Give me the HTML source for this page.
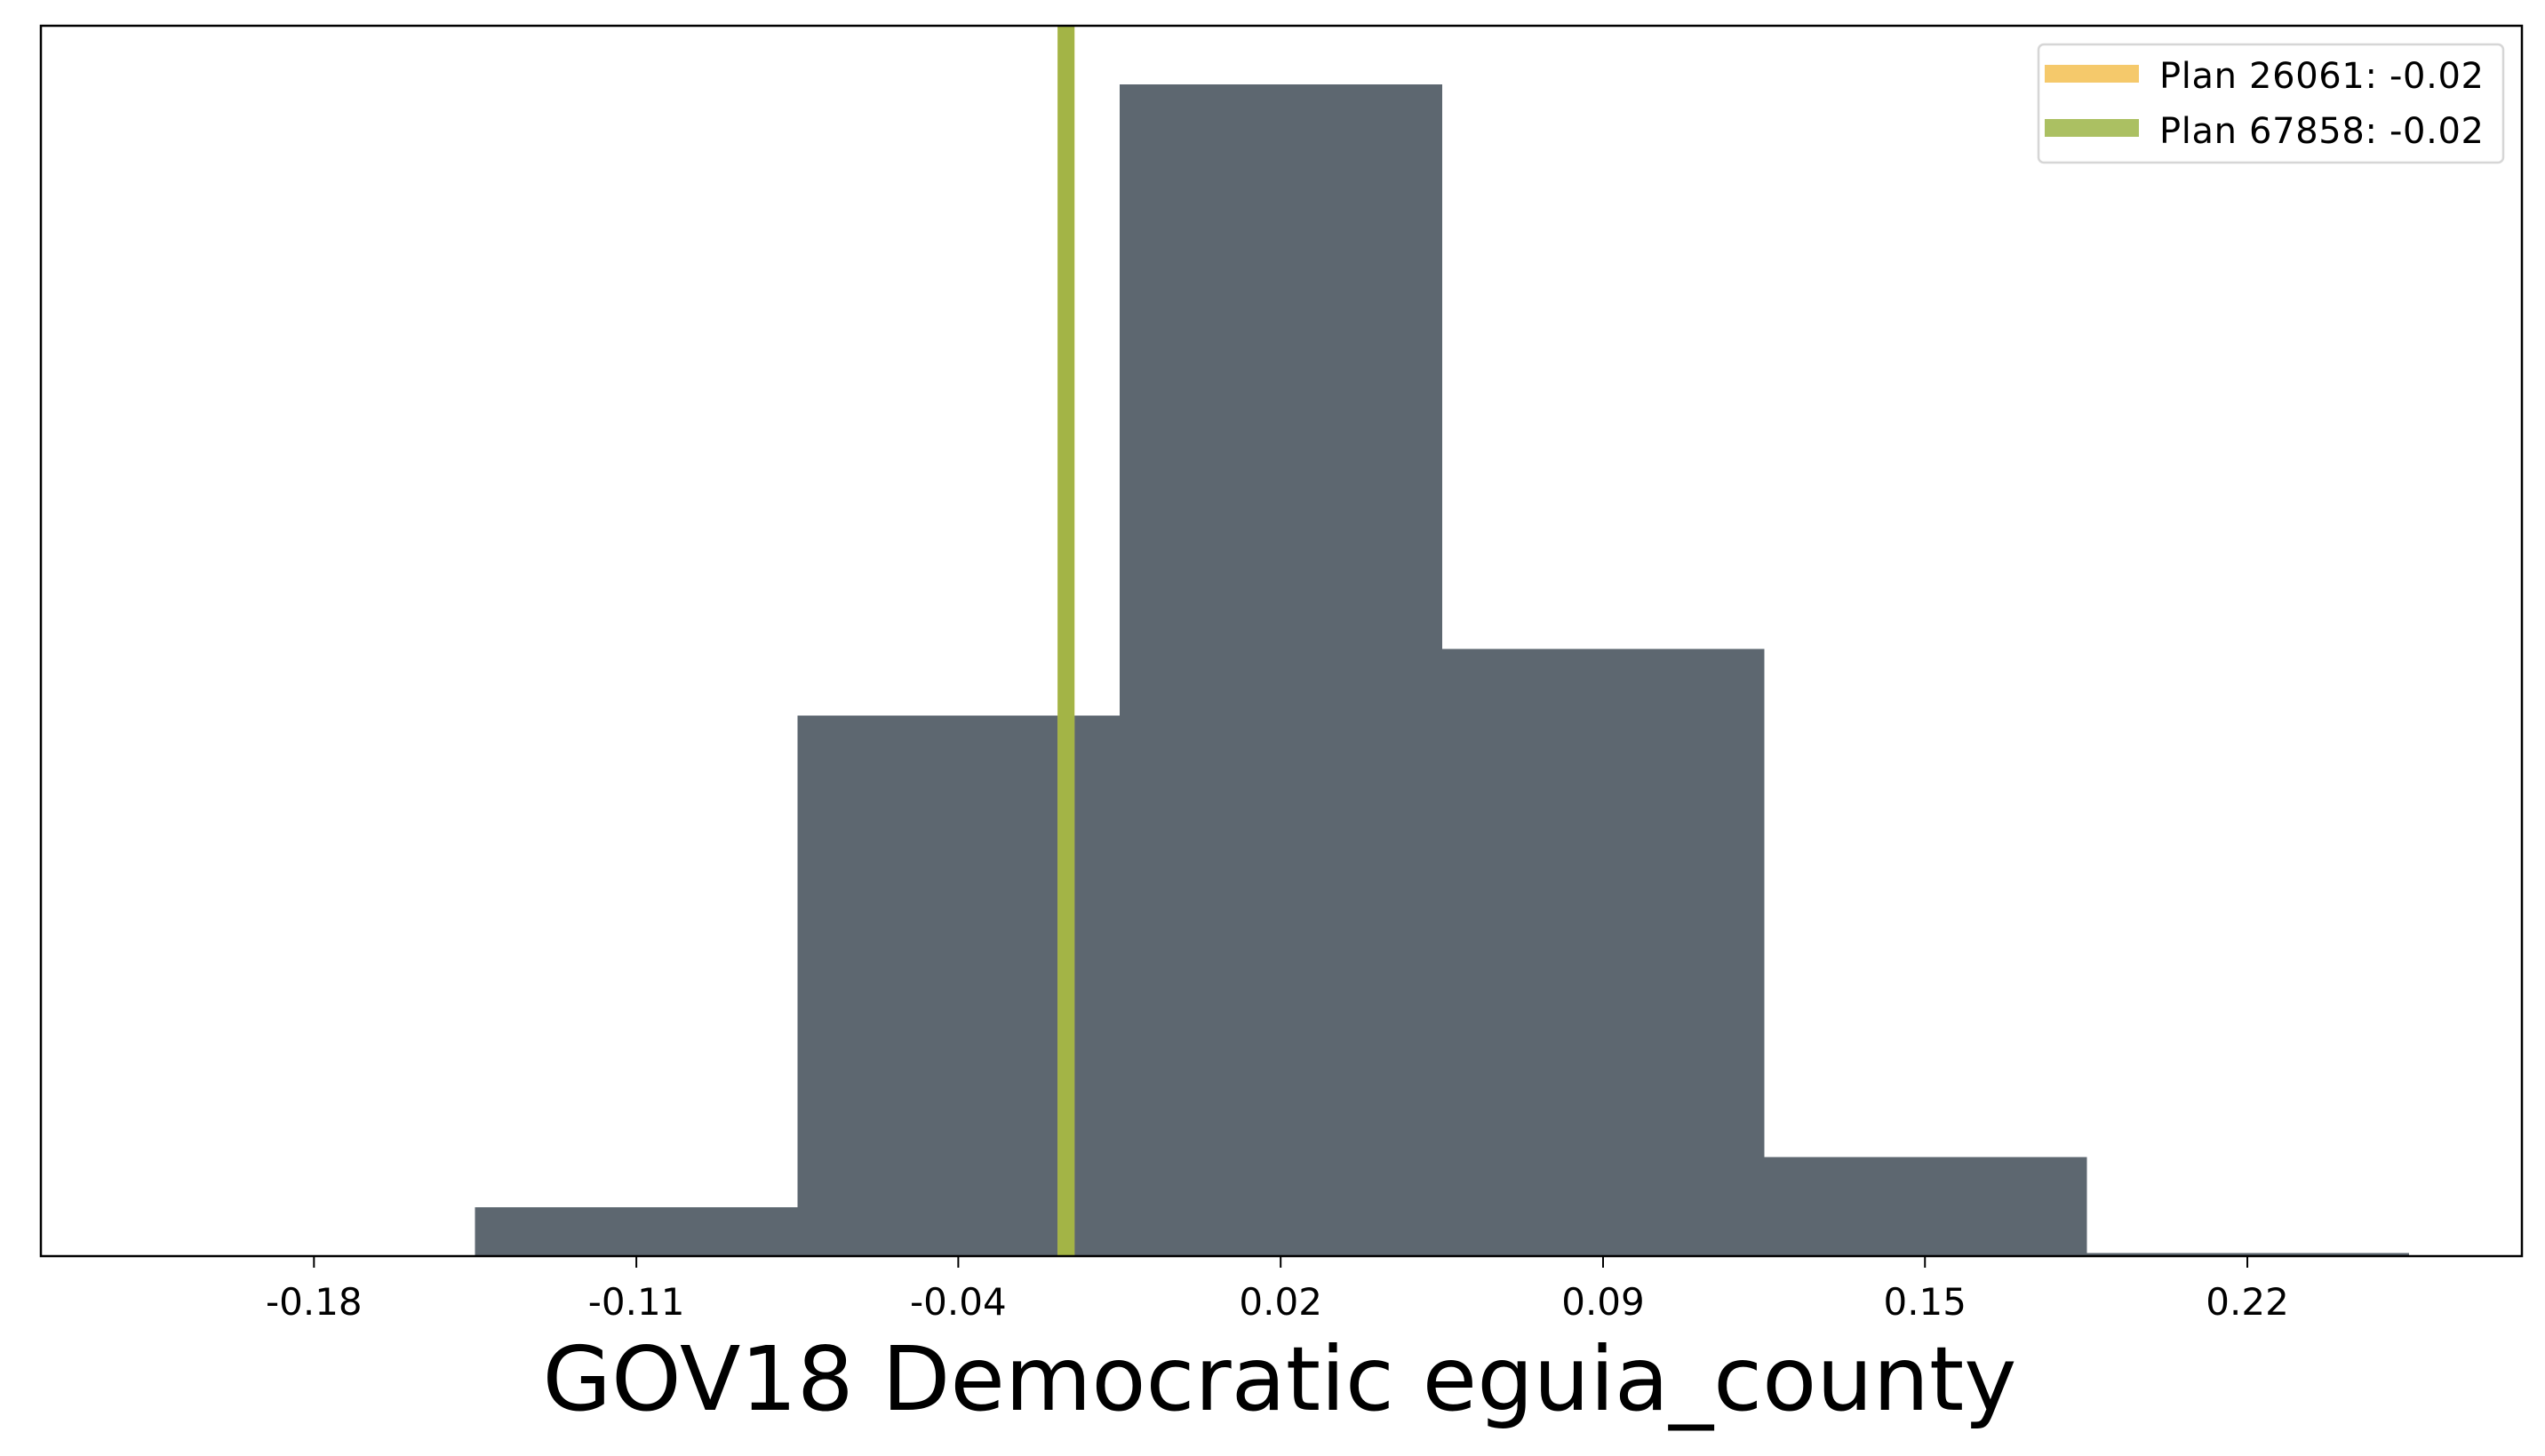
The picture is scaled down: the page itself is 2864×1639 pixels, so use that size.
<!DOCTYPE html>
<html><head><meta charset="utf-8"><style>
html,body{margin:0;padding:0;background:#fff}
svg{display:block}
text{font-family:"DejaVu Sans","Liberation Sans",sans-serif}
</style></head><body>
<svg id="chart" width="2864" height="1639" xmlns="http://www.w3.org/2000/svg">
<rect width="2864" height="1639" fill="#fff"/>
<g id="bars" shape-rendering="crispEdges"></g>
<g id="lines"></g>
<rect x="46" y="29" width="2792" height="1385" fill="none" stroke="#000" stroke-width="2.5"/>
<g id="ticks"></g>
<text x="1440" y="1587" font-size="100" text-anchor="middle">GOV18 Democratic eguia_county</text>
<g>
<rect x="2294" y="50" width="523" height="133" rx="6" fill="#fff" stroke="#d6d6d6" stroke-width="2.5"/>
<line x1="2301" y1="83" x2="2407" y2="83" stroke="#f5c96b" stroke-width="20"/>
<text x="2430" y="99" font-size="40" textLength="365">Plan 26061: -0.02</text>
<line x1="2301" y1="144" x2="2407" y2="144" stroke="#abc062" stroke-width="20"/>
<text x="2430" y="161" font-size="40" textLength="365">Plan 67858: -0.02</text>
</g>
</svg>
<script>
const binEdges = [-0.1467, -0.08, -0.0133, 0.0533, 0.12, 0.1867, 0.2533];
const binCounts = [30, 333, 722, 374, 61, 2];
const tickValues = [-0.18, -0.1133, -0.0467, 0.02, 0.0867, 0.1533, 0.22];
const tickLabels = ["-0.18", "-0.11", "-0.04", "0.02", "0.09", "0.15", "0.22"];
const planValues = [-0.0244, -0.0244];
const planColors = ["#f5c96b", "#a3b446"];

const X0 = 46, X1 = 2838, Y0 = 29, Y1 = 1414;
const xMin = -0.2365, xMax = 0.2768;
const yMax = Math.max(...binCounts) * 1.05;
function xs(v){ return X0 + (v - xMin) / (xMax - xMin) * (X1 - X0); }
function ys(v){ return Y1 - v / yMax * (Y1 - Y0); }
const NS = "http://www.w3.org/2000/svg";
const bars = document.getElementById('bars');
binCounts.forEach((c, i) => {
  const r = document.createElementNS(NS, 'rect');
  const xa = xs(binEdges[i]), xb = xs(binEdges[i+1]);
  r.setAttribute('x', xa); r.setAttribute('width', xb - xa + 0.6);
  r.setAttribute('y', ys(c)); r.setAttribute('height', Y1 - ys(c));
  r.setAttribute('fill', '#5d6770');
  
  
  bars.appendChild(r);
});
const lines = document.getElementById('lines');
planValues.forEach((v, i) => {
  const l = document.createElementNS(NS, 'line');
  l.setAttribute('x1', xs(v)); l.setAttribute('x2', xs(v));
  l.setAttribute('y1', Y0); l.setAttribute('y2', Y1);
  l.setAttribute('stroke', planColors[i]); l.setAttribute('stroke-width', 19);
  
  
  lines.appendChild(l);
});
const ticks = document.getElementById('ticks');
tickValues.forEach((v, i) => {
  const t = document.createElementNS(NS, 'line');
  t.setAttribute('x1', xs(v)); t.setAttribute('x2', xs(v));
  t.setAttribute('y1', Y1); t.setAttribute('y2', Y1 + 13);
  t.setAttribute('stroke', '#000'); t.setAttribute('stroke-width', 2);
  
  
  ticks.appendChild(t);
  const tx = document.createElementNS(NS, 'text');
  tx.setAttribute('x', xs(v)); tx.setAttribute('y', 1480);
  tx.setAttribute('font-size', 42); tx.setAttribute('text-anchor', 'middle');
  tx.textContent = tickLabels[i];
  
  
  ticks.appendChild(tx);
});
</script>
</body></html>
